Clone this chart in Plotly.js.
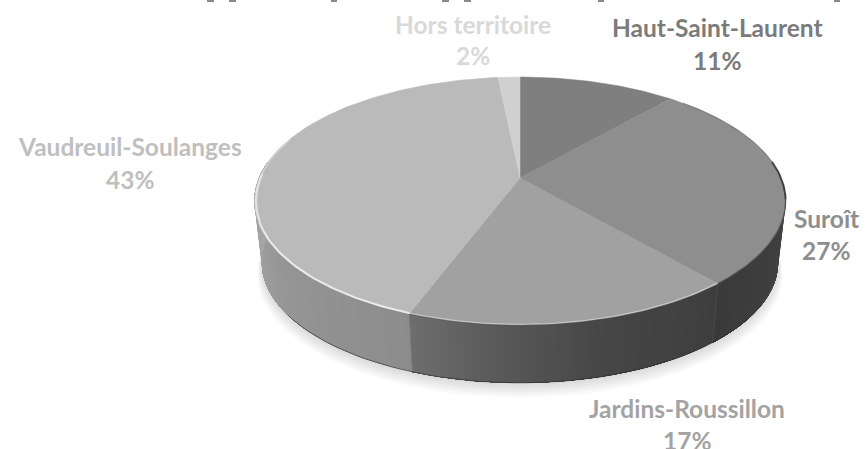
<!DOCTYPE html>
<html><head><meta charset="utf-8">
<script src="https://cdn.plot.ly/plotly-3.0.1.min.js"></script>
<style>html,body{margin:0;padding:0;background:#fff}#c{width:865px;height:449px}</style>
</head><body><div id="c"></div><script>
// Data
const categories = ["Haut-Saint-Laurent","Suroît","Jardins-Roussillon","Vaudreuil-Soulanges","Hors territoire"];
const shares = [11.4,27.3,17.0,42.7,1.6];
// Styles
const topColors = ["#7f7f7f","#8e8e8e","#a1a1a1","#bababa","#d0d0d0"];
const labelColors = ["#7b7b7b","#8e8e8e","#a3a3a3","#bfbfbf","#d9d9d9"];
const labelPx = [[717,27,60],[826,218,250],[687,408,440],[130,146,179],[473,24,55]];
const W=865,H=449,A=261,B=119.7,CX=520,CY=178,K=0.1855,S=0.972,D=0.518;
const rad=d=>d*Math.PI/180;
function P(deg,scale=1,drop=0){const u=Math.sin(rad(deg)),v=Math.cos(rad(deg)),q=1+K*v;
  return [scale*u/q, scale*v/q-drop];}
function arc(a,b,scale,drop,step=1){const o=[];const n=Math.max(1,Math.ceil(Math.abs(b-a)/step));
  for(let i=0;i<=n;i++)o.push(P(a+(b-a)*i/n,scale,drop));return o;}
const traces=[];
function poly(pts,color,lw){traces.push({type:'scatter',mode:lw?'lines':'none',x:pts.map(p=>p[0]),y:pts.map(p=>p[1]),
  fill:'toself',fillcolor:color,line:{color:color,width:lw||0},hoverinfo:'skip',showlegend:false});}
function stroke(pts,color,w){traces.push({type:'scatter',mode:'lines',x:pts.map(p=>p[0]),y:pts.map(p=>p[1]),
  line:{color:color,width:w,shape:'linear'},hoverinfo:'skip',showlegend:false});}
function lerp(st,t){for(let i=1;i<st.length;i++){if(t<=st[i][0]){const f=(t-st[i-1][0])/(st[i][0]-st[i-1][0]);
  return st[i-1][1]+f*(st[i][1]-st[i-1][1]);}}return st[st.length-1][1];}
const cum=[0];shares.forEach(v=>cum.push(cum[cum.length-1]+v*3.6));
// soft ground shadow
for(let i=5;i>=0;i--){poly(arc(0,360,S*(1+0.0035*i),D+0.02+0.016*i,4),'rgba(0,0,0,0.022)');}
// side wall: each strip runs to the slice's far end, later strips paint over it, so no seams show
const wallStops=[null,
 [[90,0x50],[105,0x42],[cum[2],0x3a]],
 [[cum[2],0x3e],[165,0x46],[185,0x5a],[cum[3],0x6e]],
 [[cum[3],0x8c],[235,0x96],[262,0xa4],[285,0xa8]],
 null];
[1,2,3].forEach(i=>{
  const a=Math.max(cum[i],84),b=Math.min(cum[i+1],278);
  for(let s=a;s<b;s+=1.5){
    const g=Math.round(lerp(wallStops[i],s+0.75));
    const c=`rgb(${g},${g},${g})`;
    poly(arc(s,b,1,0,3).concat(arc(b,s,S,D,3)),c);
  }
});
// seams on the wall
stroke([P(cum[2]),P(cum[2],S,D)],'#4a4a4a',1);
stroke([P(cum[3]),P(cum[3],S,D)],'#7a7a7a',1);
stroke(arc(125,235,S,D,2),'rgba(40,40,40,0.55)',1);
// top slices
shares.forEach((v,i)=>{const pts=[[0,0]].concat(arc(cum[i],cum[i+1],1,0));pts.push([0,0]);poly(pts,topColors[i],0.5);});
// bevel along the rim
function bev(a,b,c,w,sc){stroke(arc(a,b,sc||1,0,1),c,w);}
bev(45,82,'rgba(70,70,70,0.35)',1.2);
bev(82,100,'rgba(40,40,40,0.75)',2);
bev(100,cum[2],'rgba(60,60,60,0.55)',1.6);
bev(cum[2],cum[3],'rgba(225,225,225,0.55)',1.4,0.996);
bev(cum[2],cum[3],'rgba(60,60,60,0.35)',1,1.003);
bev(cum[3],250,'rgba(240,240,240,0.9)',2,0.996);
bev(250,272,'rgba(235,235,235,0.85)',2.2,0.994);
bev(272,290,'rgba(225,225,225,0.5)',1.6,0.996);
// labels
const ann=[];
function px(x){return x/W;} function py(y){return 1-y/H;}
categories.forEach((name,i)=>{const [x,y1,y2]=labelPx[i];
  const font={family:'Lato, "Open Sans", sans-serif',size:24.5,color:labelColors[i],weight:700};
  ann.push({xref:'paper',yref:'paper',x:px(x),y:py(y1),text:name,showarrow:false,font,xanchor:'center',yanchor:'middle'});
  ann.push({xref:'paper',yref:'paper',x:px(x),y:py(y2),text:Math.round(shares[i])+'%',showarrow:false,font,xanchor:'center',yanchor:'middle'});
});
// descenders of the title that the reference crops off at its top edge
const cropped=[[207,214],[229,236],[331,337],[442,449],[464,471],[598,604],[834,840]];
const shapes=cropped.map(c=>({type:'rect',xref:'paper',yref:'paper',x0:px(c[0]),x1:px(c[1]),y0:py(2),y1:1,fillcolor:'#8a8a8a',line:{width:0}}));
const layout={width:W,height:H,margin:{l:0,r:0,t:0,b:0},paper_bgcolor:'#fff',plot_bgcolor:'#fff',showlegend:false,
  xaxis:{range:[-CX/A,(W-CX)/A],visible:false,fixedrange:true},
  yaxis:{range:[-(H-CY)/B,CY/B],visible:false,fixedrange:true},
  annotations:ann,shapes};
Plotly.newPlot('c',traces,layout,{displayModeBar:false,staticPlot:true});
</script></body></html>
